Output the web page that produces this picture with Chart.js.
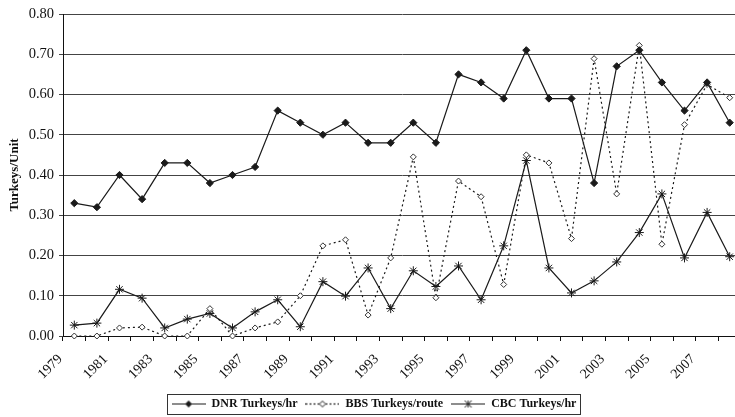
<!DOCTYPE html>
<html>
<head>
<meta charset="utf-8">
<script src="https://cdn.jsdelivr.net/npm/chart.js@4.4.1/dist/chart.umd.min.js"></script>
<style>
html,body{margin:0;padding:0;background:#fff;overflow:hidden;}
#wrap{width:735px;height:417px;overflow:hidden;position:relative;}
#c{position:absolute;left:0;top:0;}
</style>
</head>
<body>
<div id="wrap"><canvas id="c" width="741" height="417"></canvas></div>
<script>
const years = ['1979','1980','1981','1982','1983','1984','1985','1986','1987','1988','1989','1990','1991','1992','1993','1994','1995','1996','1997','1998','1999','2000','2001','2002','2003','2004','2005','2006','2007','2008'];
const dnrTurkeysHr = [0.33,0.32,0.40,0.34,0.43,0.43,0.38,0.40,0.42,0.56,0.53,0.50,0.53,0.48,0.48,0.53,0.48,0.65,0.63,0.59,0.71,0.59,0.59,0.38,0.67,0.71,0.63,0.56,0.63,0.53];
const bbsTurkeysRoute = [0.00,0.00,0.02,0.022,0.00,0.00,0.068,0.00,0.02,0.035,0.10,0.224,0.239,0.052,0.194,0.445,0.095,0.385,0.346,0.128,0.45,0.43,0.242,0.689,0.353,0.722,0.228,0.525,0.625,0.592];
const cbcTurkeysHr = [0.027,0.032,0.116,0.094,0.02,0.042,0.056,0.02,0.06,0.09,0.023,0.135,0.099,0.169,0.068,0.162,0.123,0.174,0.09,0.224,0.436,0.169,0.107,0.137,0.184,0.257,0.353,0.194,0.307,0.197];
const seriesNames = ['DNR Turkeys/hr','BBS Turkeys/route','CBC Turkeys/hr'];
const yTickValues = [0,0.1,0.2,0.3,0.4,0.5,0.6,0.7,0.8];

const SERIF = '"Liberation Serif", "DejaVu Serif", serif';
const INK = '#1a1a1a';

function legendSample(kind){
  const cv = document.createElement('canvas');
  cv.width = 34; cv.height = 11;
  const g = cv.getContext('2d');
  g.strokeStyle = INK; g.lineWidth = 1.2;
  if (kind === 1) g.setLineDash([2,2]);
  g.beginPath(); g.moveTo(0,5.5); g.lineTo(34,5.5); g.stroke();
  g.setLineDash([]);
  const cx = 17, cy = 5.5;
  if (kind === 0){
    g.fillStyle = INK; g.beginPath();
    g.moveTo(cx,cy-3.5); g.lineTo(cx+3.5,cy); g.lineTo(cx,cy+3.5); g.lineTo(cx-3.5,cy); g.closePath(); g.fill();
  } else if (kind === 1){
    g.fillStyle = '#fff'; g.lineWidth = 1; g.beginPath();
    g.moveTo(cx,cy-3); g.lineTo(cx+3,cy); g.lineTo(cx,cy+3); g.lineTo(cx-3,cy); g.closePath(); g.fill(); g.stroke();
  } else {
    g.lineWidth = 1; g.beginPath();
    g.moveTo(cx-3.5,cy-3.5); g.lineTo(cx+3.5,cy+3.5);
    g.moveTo(cx+3.5,cy-3.5); g.lineTo(cx-3.5,cy+3.5);
    g.moveTo(cx,cy-3.5); g.lineTo(cx,cy+3.5);
    g.stroke();
  }
  return cv;
}
const legendImgs = [legendSample(0), legendSample(1), legendSample(2)];

const legendBoxPlugin = {
  id: 'legendBox',
  afterDraw(chart){
    const lg = chart.legend;
    if (!lg || !lg.legendHitBoxes || !lg.legendHitBoxes.length) return;
    let minX = Infinity, maxX = -Infinity, minY = Infinity, maxY = -Infinity;
    lg.legendHitBoxes.forEach(b => {
      minX = Math.min(minX, b.left); maxX = Math.max(maxX, b.left + b.width);
      minY = Math.min(minY, b.top); maxY = Math.max(maxY, b.top + b.height);
    });
    const ctx = chart.ctx;
    ctx.save();
    ctx.strokeStyle = '#333'; ctx.lineWidth = 1;
    ctx.strokeRect(Math.round(minX - 5) + 0.5, Math.round(minY - 4) + 0.5, Math.round(maxX - minX + 8), Math.round(maxY - minY + 8));
    ctx.restore();
  }
};

new Chart(document.getElementById('c'), {
  type: 'line',
  data: {
    labels: years,
    datasets: [
      { label: seriesNames[0], data: dnrTurkeysHr, borderColor: INK, backgroundColor: INK, borderWidth: 1.2,
        pointStyle: 'rectRot', pointRadius: 3.6, pointBorderWidth: 1, pointBackgroundColor: INK, pointBorderColor: INK, tension: 0, clip: 8 },
      { label: seriesNames[1], data: bbsTurkeysRoute, borderColor: INK, backgroundColor: '#fff', borderWidth: 1.2, borderDash: [2,3],
        pointStyle: 'rectRot', pointRadius: 3, pointBorderWidth: 1, pointBackgroundColor: '#fff', pointBorderColor: '#333', tension: 0, clip: 8 },
      { label: seriesNames[2], data: cbcTurkeysHr, borderColor: INK, backgroundColor: INK, borderWidth: 1.2,
        pointStyle: 'star', pointRadius: 4.5, pointBorderWidth: 1, pointBorderColor: INK, tension: 0, clip: 8 }
    ]
  },
  options: {
    responsive: false,
    animation: false,
    layout: { autoPadding: false, padding: { left: 7, right: 0, top: 14, bottom: -3 } },
    plugins: {
      tooltip: { enabled: false },
      legend: {
        position: 'bottom',
        labels: {
          usePointStyle: true,
          pointStyleWidth: 34,
          boxHeight: 11,
          padding: 8,
          color: '#111',
          font: { family: SERIF, size: 12, weight: 'bold' },
          generateLabels(chart){
            const items = Chart.defaults.plugins.legend.labels.generateLabels(chart);
            return items.map((it, i) => Object.assign(it, { pointStyle: legendImgs[i] }));
          }
        }
      }
    },
    scales: {
      x: {
        type: 'category',
        offset: true,
        border: { display: true, color: '#111', width: 1 },
        grid: { display: true, drawOnChartArea: false, drawTicks: true, tickLength: 5, color: '#111', offset: true },
        ticks: {
          autoSkip: false, maxRotation: 45, minRotation: 45, labelOffset: -14, padding: 10,
          color: '#111', font: { family: SERIF, size: 14 },
          callback(v, i){ return i % 2 === 0 ? years[i] : ''; }
        },
        afterFit(s){ s.height = 54; s.paddingRight = 0; s.paddingLeft = 0; }
      },
      y: {
        min: 0, max: 0.8,
        afterBuildTicks(s){ s.ticks = yTickValues.map(v => ({ value: v })); },
        border: { display: true, color: '#111', width: 1 },
        grid: { color: '#444', lineWidth: 1, tickLength: 4, drawTicks: true },
        ticks: { color: '#111', padding: 5, font: { family: SERIF, size: 14.5 }, callback(v){ return Number(v).toFixed(2); } },
        title: { display: true, text: 'Turkeys/Unit', color: '#111', font: { family: SERIF, size: 13, weight: 'bold' }, padding: { top: 0, bottom: 4 } },
        afterFit(s){ s.width = 56; s.paddingTop = 0; s.paddingBottom = 0; }
      }
    }
  },
  plugins: [legendBoxPlugin]
});
</script>
</body>
</html>
